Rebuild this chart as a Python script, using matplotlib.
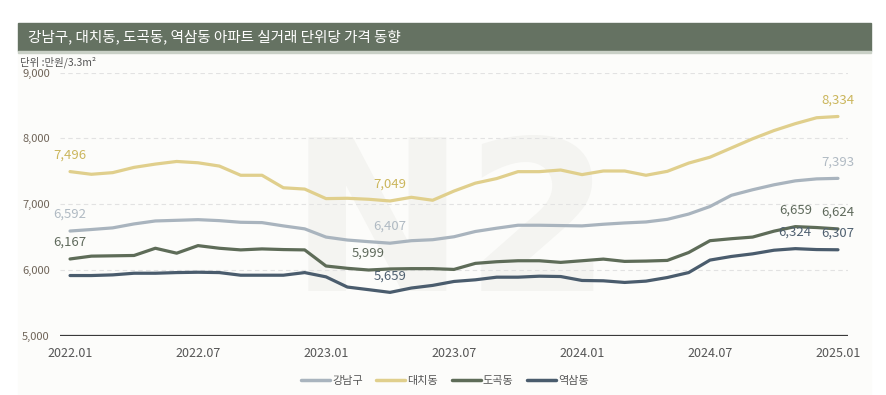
import matplotlib
matplotlib.use("Agg")
import matplotlib.pyplot as plt
from matplotlib.patches import Rectangle

plt.rcParams['font.family'] = ['Noto Sans CJK KR', 'DejaVu Sans']

# Monthly price per 3.3m2 (10k won), 2022.01 ~ 2025.01
months = ['2022.01', '2022.02', '2022.03', '2022.04', '2022.05', '2022.06', '2022.07', '2022.08', '2022.09',
          '2022.10', '2022.11', '2022.12', '2023.01', '2023.02', '2023.03', '2023.04', '2023.05', '2023.06',
          '2023.07', '2023.08', '2023.09', '2023.10', '2023.11', '2023.12', '2024.01', '2024.02', '2024.03',
          '2024.04', '2024.05', '2024.06', '2024.07', '2024.08', '2024.09', '2024.10', '2024.11', '2024.12',
          '2025.01']
gangnam = [6592, 6615, 6640, 6700, 6745, 6755, 6765, 6750, 6725, 6720, 6670, 6625, 6500, 6455, 6430, 6407,
           6445, 6460, 6505, 6585, 6635, 6680, 6680, 6675, 6670, 6695, 6715, 6730, 6770, 6850, 6965, 7135,
           7220, 7295, 7355, 7385, 7393]
daechi = [7496, 7455, 7480, 7560, 7610, 7650, 7630, 7580, 7440, 7440, 7250, 7230, 7085, 7090, 7075, 7049,
          7105, 7060, 7200, 7320, 7390, 7495, 7495, 7520, 7450, 7505, 7505, 7440, 7500, 7625, 7715, 7855,
          7995, 8120, 8225, 8315, 8334]
dogok = [6167, 6210, 6215, 6220, 6330, 6255, 6370, 6330, 6305, 6320, 6310, 6305, 6060, 6025, 5999, 6015,
         6020, 6020, 6008, 6100, 6125, 6140, 6140, 6115, 6140, 6165, 6130, 6135, 6145, 6265, 6445, 6475,
         6500, 6590, 6659, 6645, 6624]
yeoksam = [5915, 5915, 5925, 5950, 5950, 5960, 5965, 5960, 5920, 5920, 5920, 5960, 5895, 5740, 5700, 5659,
           5725, 5765, 5825, 5850, 5890, 5890, 5905, 5900, 5840, 5835, 5810, 5830, 5885, 5960, 6150, 6205,
           6245, 6300, 6324, 6310, 6307]

names = ['강남구', '대치동', '도곡동', '역삼동']
series = [gangnam, daechi, dogok, yeoksam]
colors = ['#a9b4be', '#e0cf8c', '#5e6c58', '#4a5c6d']
label_colors = ['#b0bac3', '#cbb65c', '#5f6a5c', '#4f6070']
# which points get a value label
label_idx = [[0, 15, 36], [0, 15, 36], [0, 14, 34, 36], [15, 34, 36]]

xticks = [0, 6, 12, 18, 24, 30, 36]
yticks = [5000, 6000, 7000, 8000, 9000]

W, H = 887, 395
fig = plt.figure(figsize=(W / 100, H / 100), dpi=100)
fig.patch.set_facecolor('white')

# panel background, title banner and thin strip under it (pixel coords -> figure coords)
def box(x0, y0, x1, y1, color):
    fig.patches.append(Rectangle((x0 / W, 1 - y1 / H), (x1 - x0) / W, (y1 - y0) / H,
                                 transform=fig.transFigure, color=color, zorder=-10))

box(18, 53, 871, 395, '#fcfcfa')
box(18, 23, 871, 51, '#657262')
box(18, 51, 871, 53, '#c9d0c6')
fig.text(28 / W, 1 - 37 / H, '강남구, 대치동, 도곡동, 역삼동 아파트 실거래 단위당 가격 동향',
         color='white', fontsize=10.5, va='center', ha='left')
fig.text(20 / W, 1 - 62 / H, '단위 :만원/3.3m²', color='#555555', fontsize=7.5, va='center', ha='left')

ax = fig.add_axes([60 / W, 1 - 335.7 / H, 788 / W, 263 / H])
ax.set_facecolor('none')

# big faint watermark
ax.text(0.495, 0.17, 'N2', transform=ax.transAxes, fontsize=152, fontweight='bold', color='#f4f4f1',
        ha='center', va='baseline', family='DejaVu Sans', zorder=0)

x = list(range(len(months)))
for name, vals, c, lc, idx in zip(names, series, colors, label_colors, label_idx):
    ax.plot(x, vals, color=c, lw=2.3, label=name, zorder=3, solid_capstyle='round')
    for i in idx:
        ax.annotate(f'{vals[i]:,}', (x[i], vals[i]), xytext=(0, 12), textcoords='offset points',
                    ha='center', va='center', color=lc, fontsize=9.5, zorder=4)

ax.set_xlim(-0.47, 36.47)
ax.set_ylim(5000, 9000)
ax.set_yticks(yticks)
ax.set_yticklabels([f'{v:,}' for v in yticks])
ax.set_xticks(xticks)
ax.set_xticklabels([months[i] for i in xticks])
for v in yticks[1:]:
    ax.axhline(v, color='#e2e2e2', lw=0.8, ls=(0, (4, 3)), zorder=1)
ax.axhline(5000, color='#3a3a3a', lw=1.6, zorder=2)

for s in ax.spines.values():
    s.set_visible(False)
ax.tick_params(axis='both', length=0)
ax.tick_params(axis='y', labelsize=8, labelcolor='#6f6458', pad=0)
for lab in ax.get_yticklabels():
    lab.set_horizontalalignment('left')
    lab.set_x(-38 / 788)
ax.tick_params(axis='x', labelsize=9, labelcolor='#555555', pad=8)

leg = fig.legend(loc='center', bbox_to_anchor=(445 / W, 1 - 381 / H), ncol=4, frameon=False,
                 fontsize=8, handlelength=2.6, handletextpad=0.2, columnspacing=1.2)
for line in leg.get_lines():
    line.set_linewidth(2.5)
for t in leg.get_texts():
    t.set_color('#555555')

fig.savefig('out.png', dpi=100, facecolor='white')
